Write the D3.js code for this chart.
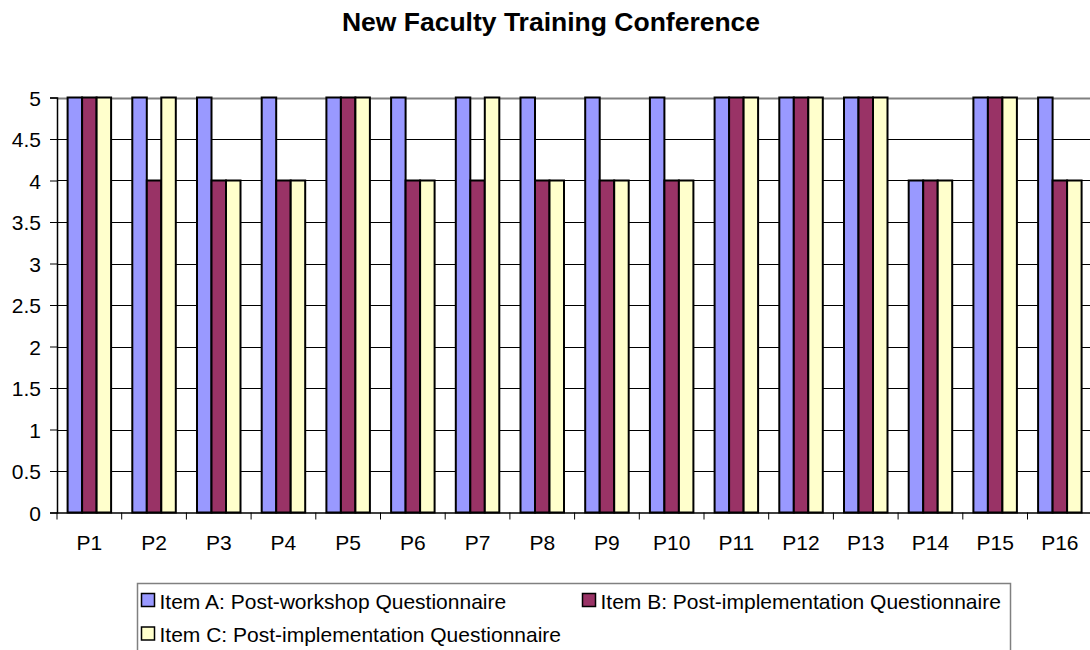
<!DOCTYPE html>
<html><head><meta charset="utf-8">
<script src="https://cdn.jsdelivr.net/npm/d3@7"></script>
<style>body{margin:0;background:#fff;overflow:hidden}svg{display:block;font-family:"Liberation Sans",Arial,sans-serif}</style>
</head><body>
<svg id="c" width="1090" height="650"></svg>
<script>
const categories = ["P1","P2","P3","P4","P5","P6","P7","P8","P9","P10","P11","P12","P13","P14","P15","P16"];
const seriesNames = ["Item A: Post-workshop Questionnaire","Item B: Post-implementation Questionnaire","Item C: Post-implementation Questionnaire"];
const itemA = [5,5,5,5,5,5,5,5,5,5,5,5,5,4,5,5];
const itemB = [5,4,4,4,5,4,4,4,4,4,5,5,5,4,5,4];
const itemC = [5,5,4,4,5,4,5,4,4,4,5,5,5,4,5,4];
const yTicks = [0,0.5,1,1.5,2,2.5,3,3.5,4,4.5,5];
const colors = ["#9999FF","#993366","#FFFFCC"];
const seriesValues = [itemA,itemB,itemC];

(function(){
const svg = d3.select("#c");
const FONT = "Liberation Sans, Arial, sans-serif";
const left = 57, plotTop = 97.5, bottom = 512.5, catW = 64.7;
const x0 = d3.scaleBand().domain(categories).range([left, left + catW*categories.length]).padding(0);
const y = d3.scaleLinear().domain([0,5]).range([bottom, plotTop]);
const gap = 10.6;
const x1 = d3.scaleBand().domain(d3.range(3)).range([gap, x0.bandwidth()-gap]).padding(0);

svg.append("text").attr("x",551).attr("y",31).attr("text-anchor","middle")
  .attr("font-size",26.5).attr("font-weight","bold").text("New Faculty Training Conference");

// gridlines
svg.append("g").selectAll("line").data(yTicks.filter(d=>d>0)).join("line")
  .attr("x1",left).attr("x2",1090).attr("y1",d=>Math.round(y(d))+0.5).attr("y2",d=>Math.round(y(d))+0.5)
  .attr("stroke",d=>d===5?"#808080":"#000").attr("stroke-width",d=>d===5?2:1);

// bars
const g = svg.append("g");
categories.forEach((c,i)=>{
  seriesValues.forEach((vals,s)=>{
    g.append("rect").attr("x",x0(c)+x1(s)).attr("y",y(vals[i]))
      .attr("width",x1.bandwidth()).attr("height",bottom-y(vals[i]))
      .attr("fill",colors[s]).attr("stroke","#000").attr("stroke-width",2);
  });
});

// y axis
const ya = svg.append("g").attr("transform",`translate(${left},0)`)
  .call(d3.axisLeft(y).tickValues(yTicks).tickSize(7).tickPadding(9).tickFormat(d=>String(d)));
ya.select(".domain").attr("stroke","#000").attr("stroke-width",1.5);
ya.selectAll("text").attr("font-size",21).attr("fill","#000").attr("font-family",FONT).attr("dy","0.38em");

// x axis
const xa = svg.append("g").attr("transform",`translate(0,${bottom})`)
  .call(d3.axisBottom(x0).tickSize(0).tickPadding(0));
xa.select(".domain").attr("stroke","#000").attr("stroke-width",1.5).attr("d",`M${left},0.5H1090`);
xa.selectAll("text").attr("font-size",21).attr("fill","#000").attr("font-family",FONT).attr("y",37).attr("dy",null);
svg.append("g").selectAll("line").data(d3.range(categories.length+1)).join("line")
  .attr("x1",d=>left+d*catW).attr("x2",d=>left+d*catW).attr("y1",bottom).attr("y2",bottom+7)
  .attr("stroke","#000").attr("stroke-width",1);

// legend
const lg = svg.append("g");
lg.append("rect").attr("x",137.5).attr("y",583.5).attr("width",873).attr("height",80)
  .attr("fill","#fff").attr("stroke","#808080").attr("stroke-width",1.5);
const legPos = [[141.5,599.5],[582.5,599.5],[141.5,633]];
seriesNames.forEach((n,i)=>{
  const [lx,ly] = legPos[i];
  lg.append("rect").attr("x",lx).attr("y",ly-6).attr("width",13).attr("height",13)
    .attr("fill",colors[i]).attr("stroke","#000").attr("stroke-width",1.5);
  lg.append("text").attr("x",lx+18).attr("y",ly+9).attr("font-size",21).attr("font-family",FONT).text(n);
});
})();
</script>
</body></html>
